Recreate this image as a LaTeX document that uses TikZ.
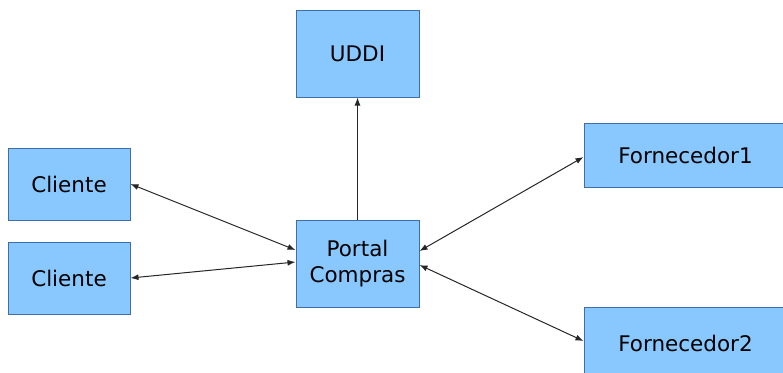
\documentclass[tikz,border=0pt]{standalone}
\usepackage{fontspec}
\setmainfont{DejaVu Sans}
\usetikzlibrary{arrows.meta}
\definecolor{boxfill}{HTML}{88C8FF}
\definecolor{boxline}{HTML}{3F6EA8}
\begin{document}
\begin{tikzpicture}[x=1pt,y=-1pt,
  box/.style={draw=boxline, fill=boxfill, line width=1pt, inner sep=0pt,
    font=\fontsize{21.5}{26}\selectfont, align=center},
  tip/.tip={Latex[length=8pt,width=6pt]},
  link/.style={line width=1pt, black!85}]
\useasboundingbox (0,0) rectangle (783,372);
\clip (0,0) rectangle (783,372);
% boxes
\node[box, minimum width=123pt, minimum height=87pt] (uddi) at (357.5,53.5) {UDDI};
\node[box, minimum width=122pt, minimum height=72pt] (cli1) at (69,184) {Cliente};
\node[box, minimum width=122pt, minimum height=72pt] (cli2) at (69,278) {Cliente};
\node[box, minimum width=123pt, minimum height=87pt] (portal) at (357.5,263.5) {Portal\\Compras};
\node[box, minimum width=203pt, minimum height=64pt] (forn1) at (685.5,155) {Fornecedor1};
\node[box, minimum width=203pt, minimum height=72pt] (forn2) at (685.5,343) {Fornecedor2};
% connectors
\draw[link, -tip] (portal.north) -- (uddi.south);
\draw[link, tip-tip] (cli1.east) -- ([yshift=13.5pt]portal.west);
\draw[link, tip-tip] (cli2.east) -- ([yshift=1.5pt]portal.west);
\draw[link, tip-tip] ([yshift=12.5pt]portal.east) -- ([yshift=-2pt]forn1.west);
\draw[link, tip-tip] ([yshift=-1.5pt]portal.east) -- ([yshift=2pt]forn2.west);
\end{tikzpicture}
\end{document}
